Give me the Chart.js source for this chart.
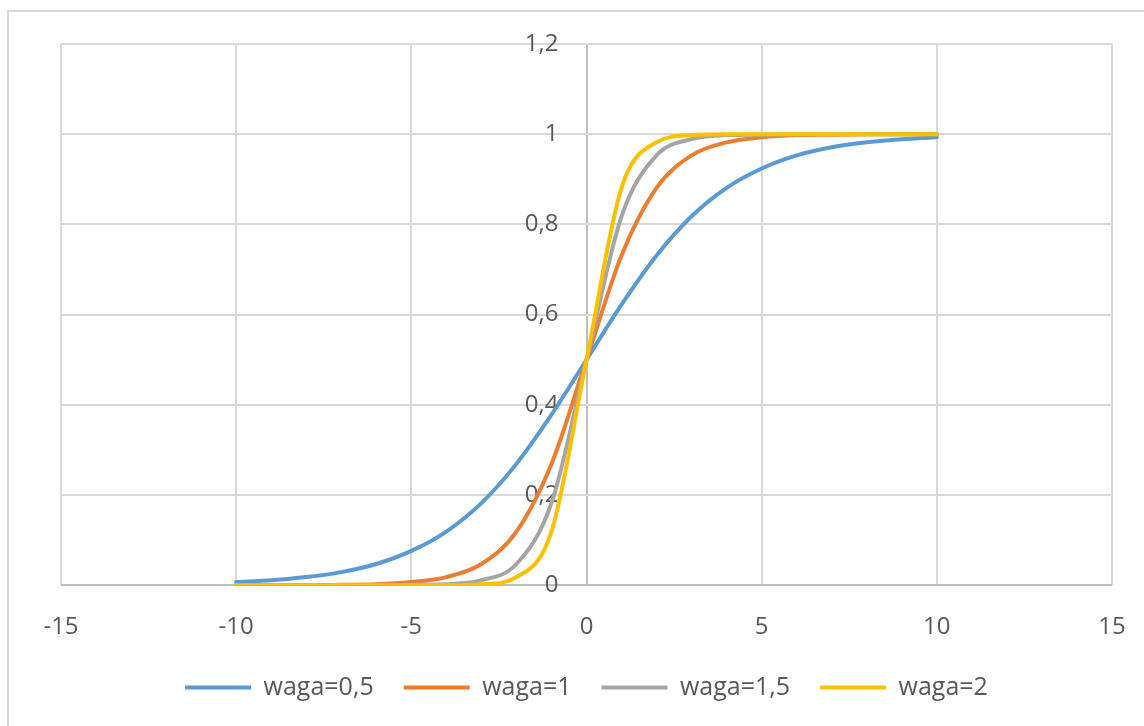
<!DOCTYPE html>
<html>
<head>
<meta charset="utf-8">
<script src="https://cdn.jsdelivr.net/npm/chart.js@4.4.1/dist/chart.umd.min.js"></script>
<style>
  html, body { margin: 0; padding: 0; background: #fff; overflow: hidden; }
  #wrap { position: relative; width: 1144px; height: 726px; }
  #frame { position: absolute; left: 7px; top: 10px; width: 1200px; height: 800px; border: 2px solid #d9d9d9; }
  #chart { position: absolute; left: 0; top: 0; }
</style>
</head>
<body>
<div id="wrap">
  <div id="frame"></div>
  <canvas id="chart" width="1144" height="726"></canvas>
</div>
<script>
  "use strict";

  // x values
  var xs = [-10, -9, -8, -7, -6, -5, -4, -3, -2, -1, 0, 1, 2, 3, 4, 5, 6, 7, 8, 9, 10];

  // series
  var waga05 = [0.007, 0.011, 0.018, 0.029, 0.047, 0.076, 0.119, 0.182, 0.269, 0.378, 0.5,
                0.622, 0.731, 0.818, 0.881, 0.924, 0.953, 0.971, 0.982, 0.989, 0.993];
  var waga1 = [0.000, 0.000, 0.000, 0.001, 0.002, 0.007, 0.018, 0.047, 0.119, 0.269, 0.5,
               0.731, 0.881, 0.953, 0.982, 0.993, 0.998, 0.999, 1.000, 1.000, 1.000];
  var waga15 = [0.000, 0.000, 0.000, 0.000, 0.000, 0.001, 0.002, 0.011, 0.047, 0.182, 0.5,
                0.818, 0.953, 0.989, 0.998, 0.999, 1.000, 1.000, 1.000, 1.000, 1.000];
  var waga2 = [0.000, 0.000, 0.000, 0.000, 0.000, 0.000, 0.000, 0.002, 0.018, 0.119, 0.5,
               0.881, 0.982, 0.998, 1.000, 1.000, 1.000, 1.000, 1.000, 1.000, 1.000];

  var seriesNames = ["waga=0,5", "waga=1", "waga=1,5", "waga=2"];
  var seriesColors = ["#5B9BD5", "#ED7D31", "#A5A5A5", "#FFC000"];

  var xTicks = [-15, -10, -5, 0, 5, 10, 15];
  var yTicks = [0, 0.2, 0.4, 0.6, 0.8, 1, 1.2];

  function points(ys) {
    return xs.map(function (x, i) { return { x: x, y: ys[i] }; });
  }

  var all = [waga05, waga1, waga15, waga2];
  var datasets = all.map(function (ys, i) {
    return {
      label: seriesNames[i],
      data: points(ys),
      borderColor: seriesColors[i],
      backgroundColor: seriesColors[i],
      borderWidth: 4,
      borderCapStyle: "round",
      pointRadius: 0,
      pointHoverRadius: 0,
      showLine: true,
      fill: false,
      cubicInterpolationMode: "monotone",
      order: 4 - i
    };
  });

  var tickFont = { family: "'Open Sans', sans-serif", size: 24 };
  var legendFont = { family: "'Open Sans', sans-serif", size: 25 };

  // axis lines at zero are a bit darker than the grid
  function gridColor(c) {
    return c.tick && c.tick.value === 0 ? "#bfbfbf" : "#d9d9d9";
  }

  var ctx = document.getElementById("chart").getContext("2d");
  var chart = new Chart(ctx, {
    type: "scatter",
    data: { datasets: datasets },
    options: {
      responsive: false,
      animation: false,
      layout: { padding: { left: 61, right: 32, top: 44, bottom: 16 } },
      plugins: {
        tooltip: { enabled: false },
        legend: {
          position: "bottom",
          labels: {
            usePointStyle: true,
            pointStyle: "line",
            pointStyleWidth: 66,
            padding: 30,
            color: "#595959",
            font: legendFont,
            sort: function (a, b) { return a.datasetIndex - b.datasetIndex; }
          }
        }
      },
      scales: {
        x: {
          type: "linear",
          min: -15,
          max: 15,
          afterBuildTicks: function (axis) {
            axis.ticks = xTicks.map(function (v) { return { value: v }; });
          },
          // invisible tick marks push the labels down without eating right padding
          grid: { color: gridColor, lineWidth: 2, drawTicks: true, tickLength: 25, tickColor: "rgba(0,0,0,0)" },
          border: { display: false },
          ticks: {
            padding: 3,
            color: "#595959",
            font: tickFont,
            maxRotation: 0,
            callback: function (v) { return String(v); }
          }
        },
        y: {
          type: "linear",
          // labels sit just left of the vertical axis at x = 0
          position: { x: -0.8 },
          min: 0,
          max: 1.2,
          afterBuildTicks: function (axis) {
            axis.ticks = yTicks.map(function (v) { return { value: v }; });
          },
          grid: { color: gridColor, lineWidth: 2, drawTicks: false },
          border: { display: false },
          ticks: {
            color: "#595959",
            font: tickFont,
            callback: function (v) { return String(Math.round(v * 10) / 10).replace(".", ","); }
          }
        }
      }
    }
  });
</script>
</body>
</html>
